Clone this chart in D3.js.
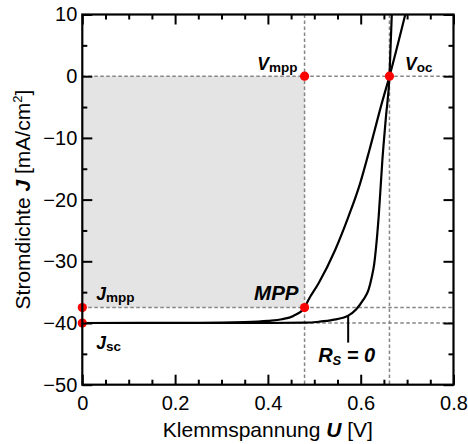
<!DOCTYPE html>
<html>
<head>
<meta charset="utf-8">
<script src="https://cdn.jsdelivr.net/npm/d3@7"></script>
<style>
  html, body { margin: 0; padding: 0; background: #fff; }
  svg { display: block; font-family: "Liberation Sans", Arial, Helvetica, sans-serif; }
</style>
</head>
<body>
<svg id="chart" width="468" height="444"></svg>
<script>
// Current-voltage characteristic of a solar cell, with and without series resistance.
// Voltages in V, current densities in mA/cm².

// Ideal cell (R_S = 0)
const idealU = [0, 0.40, 0.48, 0.51, 0.54, 0.573, 0.59, 0.605, 0.617, 0.624, 0.629, 0.6325, 0.639, 0.6467, 0.6545, 0.662, 0.667];
const idealJ = [-40, -40, -39.95, -39.8, -39.5, -38.8, -37.8, -36.3, -34.6, -32.5, -30.5, -28.2, -22.5, -13.6, -6.5, 0, 10];

// Cell with series resistance
const realU = [0, 0.25, 0.35, 0.40, 0.43, 0.455, 0.479, 0.487, 0.509, 0.5447, 0.5734, 0.5986, 0.6187, 0.6454, 0.662, 0.696];
const realJ = [-40, -39.98, -39.85, -39.65, -39.4, -38.85, -37.5, -36.3, -33.6, -28.2, -22.8, -17.4, -12.0, -4.4, 0, 10];

// Characteristic points
const Voc = 0.662;
const Vmpp = 0.479;
const Jsc = -40;
const Jmpp = -37.5;

// Axis ticks
const xTicks = [0, 0.2, 0.4, 0.6, 0.8];
const yTicks = [-50, -40, -30, -20, -10, 0, 10];

const W = 468, H = 444;
const margin = { top: 14.5, right: 14.5, bottom: 59.3, left: 82.3 };
const iw = W - margin.left - margin.right;
const ih = H - margin.top - margin.bottom;

const svg = d3.select("#chart");
const g = svg.append("g").attr("transform", `translate(${margin.left},${margin.top})`);

const x = d3.scaleLinear().domain([0, 0.8]).range([0, iw]);
const y = d3.scaleLinear().domain([-50, 10]).range([ih, 0]);

g.append("clipPath").attr("id", "plot-clip")
  .append("rect").attr("width", iw).attr("height", ih);

const FONT = "'Liberation Sans', Arial, Helvetica, sans-serif";
const dashColor = "#858585";

// Shaded power rectangle (0,0)–(Vmpp,Jmpp)
g.append("rect")
  .attr("x", x(0)).attr("y", y(0))
  .attr("width", x(Vmpp) - x(0))
  .attr("height", y(Jmpp) - y(0))
  .attr("fill", "#e4e4e4");

// Dashed guide lines
const guides = g.append("g")
  .attr("stroke", dashColor).attr("stroke-width", 1.5)
  .attr("stroke-dasharray", "3.5,2.5").attr("fill", "none");
[0, Jmpp, Jsc].forEach(v => {
  guides.append("line").attr("x1", x(0)).attr("x2", iw).attr("y1", y(v)).attr("y2", y(v));
});
[Vmpp, Voc].forEach(v => {
  guides.append("line").attr("x1", x(v)).attr("x2", x(v)).attr("y1", 0).attr("y2", ih);
});

// Characteristic curves
const line = d3.line()
  .x(d => x(d[0])).y(d => y(d[1]))
  .curve(d3.curveMonotoneX);

const curves = g.append("g").attr("clip-path", "url(#plot-clip)")
  .attr("fill", "none").attr("stroke", "#000").attr("stroke-width", 2.2)
  .attr("stroke-linejoin", "round");
curves.append("path").attr("d", line(d3.zip(idealU, idealJ)));
curves.append("path").attr("d", line(d3.zip(realU, realJ)));

// Pointer to the R_S = 0 curve
g.append("line")
  .attr("x1", x(0.573)).attr("x2", x(0.573))
  .attr("y1", y(-38.8)).attr("y2", y(-38.8) + 27)
  .attr("stroke", "#000").attr("stroke-width", 2);

// Red markers
const pts = [[0, Jmpp], [0, Jsc], [Vmpp, 0], [Voc, 0], [Vmpp, Jmpp]];
g.append("g").selectAll("circle").data(pts).join("circle")
  .attr("cx", d => x(d[0])).attr("cy", d => y(d[1]))
  .attr("r", 4.6).attr("fill", "#ff0000");

// Axes: major ticks with labels, minor ticks, all pointing inward
const xMinor = d3.range(0, 0.8001, 0.05).filter(v => !xTicks.some(t => Math.abs(t - v) < 1e-6));
const yMinor = d3.range(-50, 10.001, 5).filter(v => !yTicks.includes(v));
const xFmt = d => d === 0 ? "0" : d3.format(".1f")(d);
const yFmt = d3.format("d");

function styleAxis(sel) {
  sel.select(".domain").remove();
  sel.selectAll(".tick line").attr("stroke", "#000").attr("stroke-width", 2);
  sel.selectAll(".tick text").attr("font-family", FONT).attr("font-size", 20).attr("fill", "#000");
}

g.append("g").attr("transform", `translate(0,${ih})`)
  .call(d3.axisBottom(x).tickValues(xTicks).tickFormat(xFmt).tickSize(-10).tickPadding(11))
  .call(styleAxis);
g.append("g").attr("transform", `translate(0,${ih})`)
  .call(d3.axisBottom(x).tickValues(xMinor).tickFormat("").tickSize(-5))
  .call(styleAxis);
g.append("g")
  .call(d3.axisTop(x).tickValues(xTicks).tickFormat("").tickSize(-10))
  .call(styleAxis);
g.append("g")
  .call(d3.axisTop(x).tickValues(xMinor).tickFormat("").tickSize(-5))
  .call(styleAxis);

g.append("g")
  .call(d3.axisLeft(y).tickValues(yTicks).tickFormat(yFmt).tickSize(-10).tickPadding(5))
  .call(styleAxis);
g.append("g")
  .call(d3.axisLeft(y).tickValues(yMinor).tickFormat("").tickSize(-5))
  .call(styleAxis);
g.append("g").attr("transform", `translate(${iw},0)`)
  .call(d3.axisRight(y).tickValues(yTicks).tickFormat("").tickSize(-10))
  .call(styleAxis);
g.append("g").attr("transform", `translate(${iw},0)`)
  .call(d3.axisRight(y).tickValues(yMinor).tickFormat("").tickSize(-5))
  .call(styleAxis);

// Frame
g.append("rect").attr("width", iw).attr("height", ih)
  .attr("fill", "none").attr("stroke", "#000").attr("stroke-width", 2.2);

// Point labels
function subLabel(px, py, main, sub, anchor, mainSize, subSize, shift) {
  const t = g.append("text")
    .attr("x", px).attr("y", py)
    .attr("text-anchor", anchor)
    .attr("font-family", FONT).attr("font-weight", "bold").attr("fill", "#000");
  t.append("tspan").attr("font-style", "italic").attr("font-size", mainSize).text(main);
  t.append("tspan").attr("font-size", subSize).attr("dy", shift).text(sub);
  return t;
}

subLabel(x(Vmpp) - 7, y(0) - 6, "V", "mpp", "end", 17.5, 13.5, 2);
subLabel(x(Voc) + 15.5, y(0) - 6, "V", "oc", "start", 17.5, 13.5, 2);
subLabel(x(0) + 14, y(Jmpp) - 7.5, "J", "mpp", "start", 17.5, 13.5, 2);
subLabel(x(0) + 14, y(Jsc) + 25.5, "J", "sc", "start", 17.5, 13.5, 2);

g.append("text")
  .attr("x", x(Vmpp) - 6).attr("y", y(Jmpp) - 7.5)
  .attr("text-anchor", "end")
  .attr("font-family", FONT).attr("font-weight", "bold").attr("font-style", "italic")
  .attr("font-size", 20.5).attr("fill", "#000")
  .text("MPP");

const rs = g.append("text")
  .attr("x", x(0.573) - 30).attr("y", y(-38.8) + 46)
  .attr("font-family", FONT).attr("font-weight", "bold").attr("font-style", "italic")
  .attr("fill", "#000");
rs.append("tspan").attr("font-size", 20).text("R");
rs.append("tspan").attr("font-size", 13).attr("dy", 3).text("S");
rs.append("tspan").attr("font-size", 20).attr("dy", -3).text(" = 0");

// Axis titles
const xt = svg.append("text")
  .attr("x", margin.left + iw / 2).attr("y", 437)
  .attr("text-anchor", "middle")
  .attr("font-family", FONT).attr("font-size", 21).attr("fill", "#000");
xt.append("tspan").text("Klemmspannung ");
xt.append("tspan").attr("font-weight", "bold").attr("font-style", "italic").text("U");
xt.append("tspan").text(" [V]");

const yt = svg.append("text")
  .attr("transform", `translate(30,${margin.top + ih / 2}) rotate(-90)`)
  .attr("text-anchor", "middle")
  .attr("font-family", FONT).attr("font-size", 21).attr("fill", "#000");
yt.append("tspan").text("Stromdichte ");
yt.append("tspan").attr("font-weight", "bold").attr("font-style", "italic").text("J");
yt.append("tspan").text(" [mA/cm");
yt.append("tspan").attr("font-size", 13).attr("dy", -8).text("2");
yt.append("tspan").attr("dy", 8).text("]");
</script>
</body>
</html>
